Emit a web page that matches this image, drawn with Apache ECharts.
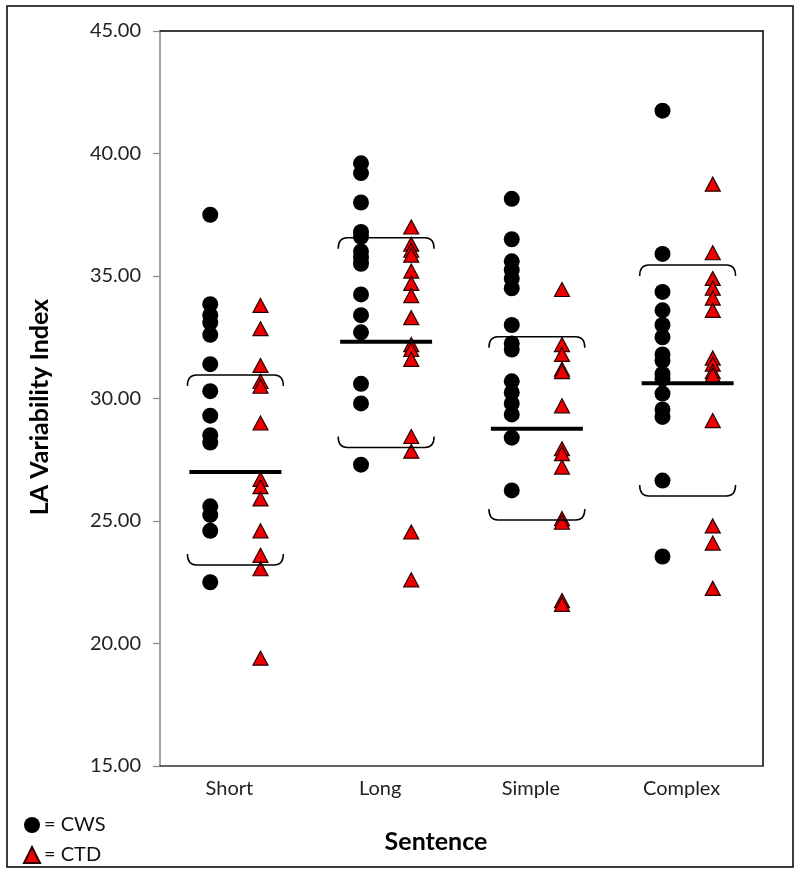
<!DOCTYPE html>
<html>
<head>
<meta charset="utf-8">
<script src="https://cdn.jsdelivr.net/npm/echarts@6/dist/echarts.min.js"></script>
<style>html,body{margin:0;padding:0;background:#fff}#c{width:800px;height:876px}</style>
</head>
<body>
<div id="c"></div>
<script>
const categories = ['Short', 'Long', 'Simple', 'Complex'];
const yTicks = [15, 20, 25, 30, 35, 40, 45];

const cwsShort = [37.5, 33.85, 33.4, 33.1, 32.6, 31.4, 30.3, 29.3, 28.5, 28.2, 25.6, 25.25, 24.6, 22.5];
const cwsLong = [39.6, 39.2, 38.0, 36.8, 36.6, 36.0, 35.75, 35.5, 34.25, 33.4, 32.7, 30.6, 29.8, 27.3];
const cwsSimple = [38.15, 36.5, 35.6, 35.25, 34.9, 34.5, 33.0, 32.25, 32.0, 30.7, 30.25, 29.8, 29.35, 28.4, 26.25];
const cwsComplex = [41.75, 35.9, 34.35, 33.6, 33.0, 32.5, 31.8, 31.55, 31.0, 30.8, 30.2, 29.55, 29.25, 26.65, 23.55];

const ctdShort = [33.8, 32.85, 31.35, 30.7, 30.5, 29.0, 26.7, 26.4, 25.9, 24.6, 23.6, 23.05, 19.4];
const ctdLong = [37.0, 36.3, 36.05, 35.85, 35.2, 34.7, 34.2, 33.3, 32.2, 32.0, 31.6, 28.45, 27.85, 24.55, 22.6];
const ctdSimple = [34.45, 32.2, 31.8, 31.2, 31.1, 29.7, 27.95, 27.75, 27.2, 25.1, 24.95, 21.75, 21.6];
const ctdComplex = [38.75, 35.95, 34.9, 34.5, 34.1, 33.6, 31.65, 31.4, 31.1, 30.95, 29.1, 24.8, 24.1, 22.25];

const means = [27.0, 32.32, 28.77, 30.62];
const upperBracket = [30.96, 36.56, 32.52, 35.45];
const lowerBracket = [23.2, 28.0, 25.04, 26.02];

const cwsGroups = [cwsShort, cwsLong, cwsSimple, cwsComplex];
const ctdGroups = [ctdShort, ctdLong, ctdSimple, ctdComplex];

const FONT = 'Lato';
const cwsData = [];
cwsGroups.forEach((g, i) => g.forEach(v => cwsData.push([i + 1 / 3, v])));
const ctdData = [];
ctdGroups.forEach((g, i) => g.forEach(v => ctdData.push([i + 2 / 3, v])));
const summaryData = categories.map((c, i) => [i, means[i], upperBracket[i], lowerBracket[i]]);

const chart = echarts.init(document.getElementById('c'), null, {renderer: 'canvas'});
chart.setOption({
  animation: false,
  backgroundColor: '#fff',
  grid: {left: 160, top: 31, right: 37, bottom: 110},
  xAxis: [
    {type: 'value', min: 0, max: 4, show: false},
    {type: 'category', data: categories, position: 'bottom',
     axisLine: {show: true, lineStyle: {color: '#333', width: 1.5}},
     axisTick: {show: false},
     axisLabel: {fontFamily: FONT, fontSize: 20, color: '#222', margin: 13, padding: [0, 12, 0, 0]}},
    {type: 'value', min: 0, max: 4, position: 'top',
     axisLine: {show: true, onZero: false, lineStyle: {color: '#000', width: 1.5}},
     axisTick: {show: false}, axisLabel: {show: false}, splitLine: {show: false}}
  ],
  yAxis: [
    {type: 'value', min: yTicks[0], max: yTicks[yTicks.length - 1], interval: 5,
     axisLine: {show: true, lineStyle: {color: '#888', width: 1.5}},
     axisTick: {show: true, length: 7, inside: false, lineStyle: {color: '#888', width: 1.2}},
     axisLabel: {fontFamily: FONT, fontSize: 20, color: '#222', margin: 19,
                 formatter: v => v.toFixed(2)},
     splitLine: {show: false}},
    {type: 'value', min: 15, max: 45, position: 'right',
     axisLine: {show: true, onZero: false, lineStyle: {color: '#000', width: 1.5}},
     axisTick: {show: false}, axisLabel: {show: false}, splitLine: {show: false}}
  ],
  legend: {
    orient: 'vertical', left: 18, top: 810, itemGap: 10,
    itemWidth: 16, itemHeight: 16,
    formatter: '= {name}',
    textStyle: {fontFamily: FONT, fontSize: 20, color: '#111', padding: [0, 0, 0, -1]},
    data: [{name: 'CWS', icon: 'circle'}, {name: 'CTD', icon: 'triangle'}]
  },
  graphic: [
    {type: 'rect', shape: {x: 7, y: 6, width: 786, height: 861},
     style: {fill: null, stroke: '#000', lineWidth: 1.5}, silent: true, z: -1},
    {type: 'text', x: 40, y: 407, rotation: Math.PI / 2,
     style: {text: 'LA Variability Index', font: 'bold 25px ' + FONT, fill: '#000',
             textAlign: 'center', textVerticalAlign: 'middle'}},
    {type: 'text', x: 436, y: 842,
     style: {text: 'Sentence', font: 'bold 25px ' + FONT, fill: '#000',
             textAlign: 'center', textVerticalAlign: 'middle'}}
  ],
  series: [
    {name: 'CWS', type: 'scatter', xAxisIndex: 0, yAxisIndex: 0, data: cwsData,
     symbol: 'circle', symbolSize: 16, itemStyle: {color: '#000', opacity: 1}, z: 2},
    {name: 'CTD', type: 'scatter', xAxisIndex: 0, yAxisIndex: 0, data: ctdData,
     symbol: 'triangle', symbolSize: [15, 14],
     itemStyle: {color: '#ee0000', borderColor: '#2a0000', borderWidth: 1.2, opacity: 1}, z: 3},
    {name: 'summary', type: 'custom', xAxisIndex: 0, yAxisIndex: 0, data: summaryData, z: 4,
     renderItem: function (params, api) {
       const i = api.value(0);
       const m = api.value(1), u = api.value(2), l = api.value(3);
       const c = i + 0.5;
       const pL = api.coord([c - 0.305, m]);
       const pR = api.coord([c + 0.305, m]);
       const bL = api.coord([c - 0.318, u])[0];
       const bR = api.coord([c + 0.318, u])[0];
       const yu = api.coord([c, u])[1];
       const yl = api.coord([c, l])[1];
       const h = 11, r = 9;
       return {type: 'group', children: [
         {type: 'line', shape: {x1: pL[0], y1: pL[1], x2: pR[0], y2: pR[1]},
          style: {stroke: '#000', lineWidth: 4}},
         {type: 'path', shape: {pathData:
           'M' + bL + ' ' + (yu + h) + ' Q' + bL + ' ' + yu + ' ' + (bL + r) + ' ' + yu +
           ' L' + (bR - r) + ' ' + yu + ' Q' + bR + ' ' + yu + ' ' + bR + ' ' + (yu + h)},
          style: {stroke: '#000', fill: 'none', lineWidth: 1.5}},
         {type: 'path', shape: {pathData:
           'M' + bL + ' ' + (yl - h) + ' Q' + bL + ' ' + yl + ' ' + (bL + r) + ' ' + yl +
           ' L' + (bR - r) + ' ' + yl + ' Q' + bR + ' ' + yl + ' ' + bR + ' ' + (yl - h)},
          style: {stroke: '#000', fill: 'none', lineWidth: 1.5}}
       ]};
     }}
  ]
});
</script>
</body>
</html>
